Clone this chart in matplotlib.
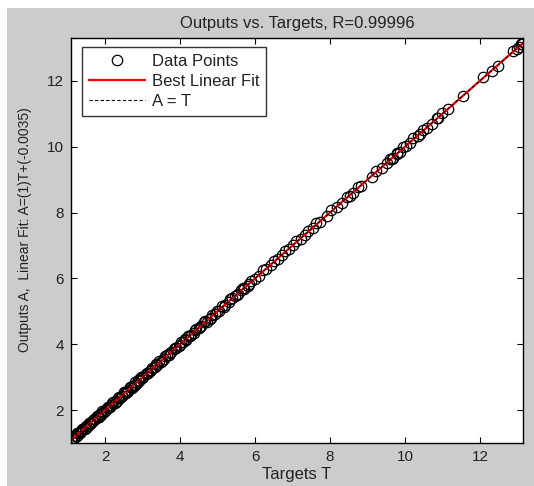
import numpy as np
import matplotlib
matplotlib.use('Agg')
import matplotlib.pyplot as plt
from matplotlib.patches import Rectangle

plt.rcParams['font.family'] = ['Liberation Sans', 'DejaVu Sans']

# targets (T) and network outputs (A) in chunks
t_low = [1.10, 1.13, 1.16, 1.20, 1.24, 1.28, 1.32, 1.37, 1.41, 1.46, 1.50, 1.55, 1.60, 1.64,
         1.69, 1.74, 1.78, 1.83, 1.88, 1.93, 1.97, 2.02, 2.07, 2.12, 2.17, 2.21, 2.26, 2.31,
         2.36, 2.41, 2.46, 2.51, 2.56, 2.61, 2.66, 2.71, 2.76, 2.81, 2.86, 2.91, 2.96]
a_low = [1.08, 1.15, 1.14, 1.22, 1.21, 1.31, 1.30, 1.36, 1.44, 1.43, 1.53, 1.52, 1.58, 1.67,
         1.66, 1.72, 1.81, 1.80, 1.86, 1.96, 1.95, 2.00, 2.10, 2.09, 2.15, 2.24, 2.23, 2.29,
         2.39, 2.38, 2.44, 2.54, 2.53, 2.59, 2.69, 2.68, 2.74, 2.84, 2.83, 2.89, 2.99]

# second, denser batch in the crowded lower part
t_dense = [1.12, 1.18, 1.26, 1.34, 1.39, 1.48, 1.57, 1.62, 1.71, 1.80, 1.86, 1.95, 2.04,
           2.10, 2.19, 2.28, 2.34, 2.44, 2.53, 2.58, 2.68, 2.79, 2.88, 2.99, 3.11, 3.23,
           3.36, 3.48, 3.61, 3.74, 3.87, 4.00, 4.12, 4.26, 4.40, 4.53, 4.67, 4.83, 4.98,
           5.16, 5.34, 5.51, 5.67, 5.85]
a_dense = [1.15, 1.16, 1.29, 1.32, 1.42, 1.46, 1.60, 1.60, 1.74, 1.78, 1.89, 1.93, 2.07,
           2.08, 2.22, 2.26, 2.37, 2.42, 2.56, 2.56, 2.71, 2.77, 2.91, 2.97, 3.14, 3.21,
           3.39, 3.46, 3.64, 3.72, 3.90, 3.98, 4.15, 4.24, 4.43, 4.51, 4.70, 4.81, 5.01,
           5.14, 5.37, 5.49, 5.70, 5.83]

t_mid = [3.02, 3.08, 3.14, 3.20, 3.26, 3.33, 3.39, 3.45, 3.51, 3.58, 3.64, 3.70, 3.77, 3.83,
         3.90, 3.96, 4.03, 4.09, 4.16, 4.22, 4.29, 4.36, 4.43, 4.50, 4.57, 4.64, 4.71, 4.79,
         4.86, 4.94, 5.04, 5.12, 5.21, 5.30, 5.38, 5.47, 5.55, 5.62, 5.71, 5.80, 5.90, 6.01,
         6.10, 6.21, 6.30, 6.42, 6.50, 6.61, 6.72, 6.80, 6.91, 7.02, 7.10, 7.22, 7.33, 7.41]
a_mid = [3.00, 3.11, 3.12, 3.18, 3.29, 3.31, 3.37, 3.48, 3.49, 3.56, 3.67, 3.68, 3.75, 3.86,
         3.88, 3.94, 4.06, 4.07, 4.14, 4.25, 4.27, 4.34, 4.46, 4.48, 4.55, 4.67, 4.69, 4.77,
         4.89, 4.92, 5.02, 5.15, 5.19, 5.28, 5.41, 5.45, 5.53, 5.65, 5.69, 5.78, 5.93, 5.99,
         6.08, 6.24, 6.28, 6.40, 6.53, 6.59, 6.70, 6.83, 6.89, 7.00, 7.13, 7.20, 7.31, 7.44]

t_high = [7.56, 7.64, 7.73, 7.91, 8.04, 8.18, 8.31, 8.45, 8.53, 8.62, 8.75, 8.84, 9.11, 9.24,
          9.38, 9.51, 9.60, 9.65, 9.68, 9.78, 9.80, 9.87, 9.95, 10.04, 10.13, 10.22, 10.35,
          10.40, 10.49, 10.58, 10.71, 10.85, 10.88, 11.00, 11.15, 11.55, 12.08, 12.32, 12.48,
          12.88, 12.98, 13.05, 13.10, 13.13, 13.15]
a_high = [7.54, 7.67, 7.71, 7.89, 8.07, 8.16, 8.29, 8.48, 8.51, 8.60, 8.78, 8.82, 9.09, 9.27,
          9.36, 9.49, 9.63, 9.63, 9.66, 9.81, 9.78, 9.85, 9.98, 10.02, 10.11, 10.25, 10.33,
          10.38, 10.52, 10.56, 10.69, 10.88, 10.86, 11.03, 11.13, 11.53, 12.11, 12.30, 12.46,
          12.91, 12.96, 13.03, 13.13, 13.11, 13.18]

T = np.array(t_low + t_dense + t_mid + t_high)
A = np.array(a_low + a_dense + a_mid + a_high)

title = 'Outputs vs. Targets, R=0.99996'
ylab = 'Outputs A,  Linear Fit: A=(1)T+(-0.0035)'
xlab = 'Targets T'

fig = plt.figure(figsize=(5.34, 4.86), dpi=100, facecolor='white')
# grey matlab window background (white strip top / left like the screenshot)
fig.patches.append(Rectangle((7 / 534, 0), 1, 1 - 8 / 486, transform=fig.transFigure,
                             facecolor='#cccccc', edgecolor='none', zorder=-10))

ax = fig.add_axes([71 / 534, 43 / 486, 452 / 534, 405 / 486])

# fit line
m, b = np.polyfit(T, A, 1)
tt = np.array([T.min(), T.max()])

ax.plot(T, A, 'o', mfc='none', mec='black', ms=7.5, mew=0.9, label='Data Points')
ax.plot(tt, m * tt + b, color='red', lw=1.6, label='Best Linear Fit')
ax.plot(tt, tt, color='black', lw=0.8, ls=(0, (3, 2)), label='A = T')

ax.set_xlim(1.09, 13.15)
ax.set_ylim(1.0, 13.3)
ax.set_xticks([2, 4, 6, 8, 10, 12])
ax.set_yticks([2, 4, 6, 8, 10, 12])
ax.tick_params(direction='in', length=4.5, width=0.8, top=True, right=True,
               labelsize=11, pad=5, colors='black', labelcolor='#222222')
for s in ax.spines.values():
    s.set_linewidth(1.0)

ax.set_title(title, fontsize=12, color='#222222', pad=7)
ax.set_xlabel(xlab, fontsize=12, color='#222222', labelpad=2)
ax.set_ylabel(ylab, fontsize=10, color='#222222')
ax.yaxis.set_label_coords(-0.087, 0.526)

leg = ax.legend(loc='upper left', bbox_to_anchor=(0.024, 0.977), borderaxespad=0,
                fontsize=12, frameon=True, fancybox=False, handlelength=3.4,
                handletextpad=0.4, labelspacing=0.3, borderpad=0.4)
leg.get_frame().set_edgecolor('black')
leg.get_frame().set_linewidth(1.0)
for txt in leg.get_texts():
    txt.set_color('#222222')

fig.savefig('out.png', dpi=100, facecolor=fig.get_facecolor())
